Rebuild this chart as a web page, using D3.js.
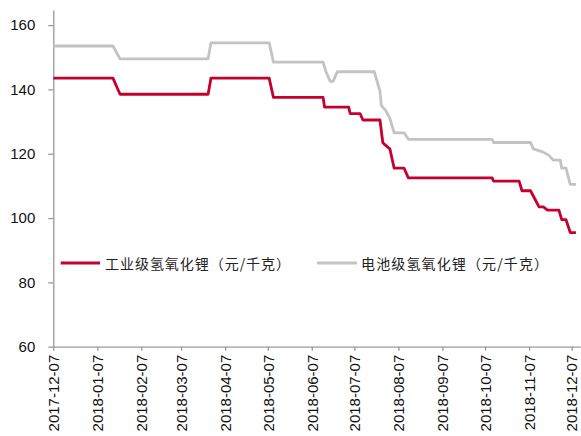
<!DOCTYPE html>
<html>
<head>
<meta charset="utf-8">
<script src="https://cdn.jsdelivr.net/npm/d3@7"></script>
<style>
  html, body { margin: 0; padding: 0; background: #fff; }
  svg { display: block; }
</style>
</head>
<body>
<svg id="chart" width="581" height="436"></svg>
<script>
// Lithium hydroxide prices, yuan/kg
const seriesNames = ["工业级氢氧化锂（元/千克）", "电池级氢氧化锂（元/千克）"];

const industrialDates = [
  "2017-12-07", "2018-01-18", "2018-01-23", "2018-03-26", "2018-03-28",
  "2018-05-08", "2018-05-11", "2018-06-15", "2018-06-16", "2018-07-03",
  "2018-07-04", "2018-07-11", "2018-07-13", "2018-07-25", "2018-07-27",
  "2018-07-28", "2018-08-01", "2018-08-04", "2018-08-11", "2018-08-14",
  "2018-10-12", "2018-10-13", "2018-10-31", "2018-11-02", "2018-11-08",
  "2018-11-11", "2018-11-14", "2018-11-17", "2018-11-20", "2018-11-28",
  "2018-11-30", "2018-12-03", "2018-12-06", "2018-12-10"
];
const industrialValues = [
  143.5, 143.5, 138.5, 138.5, 143.5,
  143.5, 137.5, 137.5, 134.5, 134.5,
  132.5, 132.5, 130.5, 130.5, 123.5,
  123, 121.5, 115.5, 115.5, 112.5,
  112.5, 111.5, 111.5, 108.5, 108.5,
  106, 103.5, 103.5, 102.5, 102.5,
  99.5, 99.5, 95.5, 95.5
];

const batteryDates = [
  "2017-12-07", "2018-01-18", "2018-01-23", "2018-03-26", "2018-03-28",
  "2018-05-08", "2018-05-11", "2018-06-15", "2018-06-17", "2018-06-20",
  "2018-06-22", "2018-06-25", "2018-07-21", "2018-07-25", "2018-07-26",
  "2018-07-29", "2018-08-01", "2018-08-04", "2018-08-11", "2018-08-14",
  "2018-10-12", "2018-10-13", "2018-11-08", "2018-11-10", "2018-11-17",
  "2018-11-21", "2018-11-24", "2018-11-29", "2018-11-30", "2018-12-03",
  "2018-12-06", "2018-12-10"
];
const batteryValues = [
  153.5, 153.5, 149.5, 149.5, 154.5,
  154.5, 148.5, 148.5, 145.5, 142.5,
  142.5, 145.5, 145.5, 139.5, 135,
  133.5, 131, 126.5, 126.5, 124.5,
  124.5, 123.5, 123.5, 121.5, 120.5,
  119.5, 118, 118, 115.5, 115.5,
  110.5, 110.5
];

const xTickLabels = [
  "2017-12-07", "2018-01-07", "2018-02-07", "2018-03-07", "2018-04-07",
  "2018-05-07", "2018-06-07", "2018-07-07", "2018-08-07", "2018-09-07",
  "2018-10-07", "2018-11-07", "2018-12-07"
];
const yTicks = [60, 80, 100, 120, 140, 160];

const parse = d3.utcParse("%Y-%m-%d");
const svg = d3.select("#chart");

const x = d3.scaleUtc()
  .domain([parse("2017-12-07"), parse("2018-12-13")])
  .range([53.3, 580.2]);
const y = d3.scaleLinear()
  .domain([60, 164.7])
  .range([346.7, 10]);

const axisColor = "#999";
const labelFont = "'Liberation Sans', Arial, sans-serif";

// y axis
const gy = svg.append("g")
  .attr("transform", `translate(${x.range()[0]},0)`)
  .call(d3.axisLeft(y).tickValues(yTicks).tickSize(5).tickPadding(13).tickSizeOuter(0));
gy.select(".domain").attr("stroke", axisColor).attr("stroke-width", 1.3);
gy.selectAll(".tick line").attr("stroke", axisColor).attr("stroke-width", 1.3);
gy.selectAll(".tick text")
  .attr("font-family", labelFont).attr("font-size", 15).attr("fill", "#111");

// x axis
const gx = svg.append("g")
  .attr("transform", `translate(0,${y(60)})`)
  .call(d3.axisBottom(x).tickValues(xTickLabels.map(parse)).tickSize(4).tickSizeOuter(0)
    .tickFormat((d, i) => xTickLabels[i]));
gx.select(".domain").attr("stroke", axisColor).attr("stroke-width", 1.3);
gx.selectAll(".tick line").attr("stroke", axisColor).attr("stroke-width", 1.3);
gx.selectAll(".tick text")
  .attr("font-family", labelFont).attr("font-size", 15).attr("fill", "#111")
  .attr("text-anchor", "end")
  .attr("transform", "translate(0,8) rotate(-90)")
  .attr("x", 0).attr("y", 0).attr("dy", "0.35em");

// series lines
const line = d3.line()
  .x(d => x(d.date))
  .y(d => y(d.value));

const series = [
  { name: seriesNames[0], dates: industrialDates, values: industrialValues, color: "#C4002F" },
  { name: seriesNames[1], dates: batteryDates, values: batteryValues, color: "#C3C3C3" }
];

// battery grade first so the industrial grade sits above it
[series[1], series[0]].forEach(s => {
  const pts = s.dates.map((d, i) => ({ date: parse(d), value: s.values[i] }));
  svg.append("path")
    .datum(pts)
    .attr("fill", "none")
    .attr("stroke", s.color)
    .attr("stroke-width", 2.8)
    .attr("stroke-linejoin", "round")
    .attr("d", line);
});

// legend
const legendItems = [
  { s: series[0], x1: 60.7, x2: 100, tx: 105, len: 185 },
  { s: series[1], x1: 317, x2: 357, tx: 361, len: 187 }
];
const legendY = 263;
legendItems.forEach(it => {
  svg.append("line")
    .attr("x1", it.x1).attr("x2", it.x2)
    .attr("y1", legendY).attr("y2", legendY)
    .attr("stroke", it.s.color).attr("stroke-width", 2.8);
  svg.append("text")
    .attr("x", it.tx).attr("y", legendY)
    .attr("dominant-baseline", "central")
    .attr("font-family", "'Noto Sans CJK SC', sans-serif")
    .attr("font-size", 14)
    .attr("fill", "#222")
    .attr("textLength", it.len)
    .attr("lengthAdjust", "spacing")
    .text(it.s.name);
});
</script>
</body>
</html>
